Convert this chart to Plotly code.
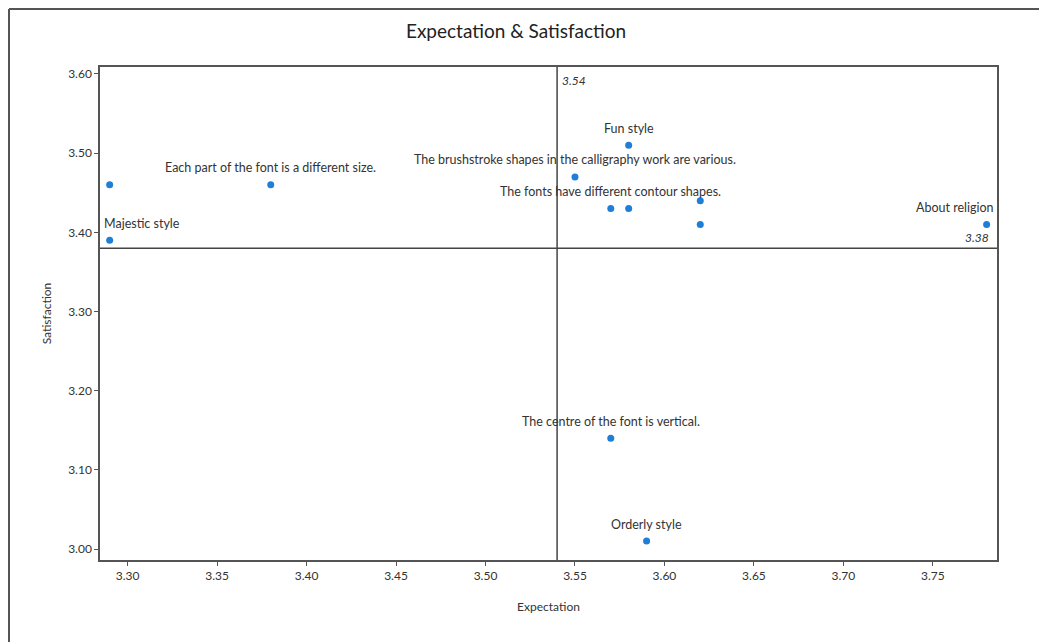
import plotly.graph_objects as go

# Data
labels = ["Majestic style", "", "Each part of the font is a different size.",
          "Fun style", "The brushstroke shapes in the calligraphy work are various.",
          "The fonts have different contour shapes.", "", "", "",
          "About religion", "The centre of the font is vertical.", "Orderly style"]
expectation = [3.29, 3.29, 3.38, 3.58, 3.55, 3.57, 3.58, 3.62, 3.62, 3.78, 3.57, 3.59]
satisfaction = [3.39, 3.46, 3.46, 3.51, 3.47, 3.43, 3.43, 3.44, 3.41, 3.41, 3.14, 3.01]
mean_expectation = 3.54
mean_satisfaction = 3.38
x_ticks = [3.30, 3.35, 3.40, 3.45, 3.50, 3.55, 3.60, 3.65, 3.70, 3.75]
y_ticks = [3.00, 3.10, 3.20, 3.30, 3.40, 3.50, 3.60]

FONT = "Lato"
TXT = "#333333"

fig = go.Figure()
fig.add_trace(go.Scatter(
    x=expectation, y=satisfaction, mode="markers",
    marker=dict(color="#1f7fd6", size=7),
    hoverinfo="x+y", showlegend=False,
))

# point labels
for lab, xv, yv in zip(labels, expectation, satisfaction):
    if not lab:
        continue
    anchor, shift = "center", 0
    if lab == "Majestic style":
        anchor, shift = "left", -8
    elif lab == "About religion":
        anchor, shift = "right", 9
    fig.add_annotation(x=xv, y=yv, text=lab, showarrow=False,
                       xanchor=anchor, xshift=shift, yanchor="middle", yshift=17,
                       font=dict(family=FONT, size=12.5, color=TXT))

# reference lines
fig.add_shape(type="line", xref="x", yref="paper", x0=mean_expectation, x1=mean_expectation,
              y0=0, y1=1, line=dict(color="#444444", width=1.5))
fig.add_shape(type="line", xref="paper", yref="y", x0=0, x1=1,
              y0=mean_satisfaction, y1=mean_satisfaction, line=dict(color="#444444", width=1.5))
fig.add_annotation(x=mean_expectation, y=1, xref="x", yref="paper", text="<i>%.2f</i>" % mean_expectation,
                   showarrow=False, xanchor="left", yanchor="top", xshift=3, yshift=-4,
                   font=dict(family=FONT, size=12, color=TXT))
fig.add_annotation(x=1, y=mean_satisfaction, xref="paper", yref="y", text="<i>%.2f</i>" % mean_satisfaction,
                   showarrow=False, xanchor="right", yanchor="bottom", xshift=-6, yshift=1,
                   font=dict(family=FONT, size=12, color=TXT))

# page has an 8px body margin; figure sized to fit the window
W, H = 1039, 634
ml, mt = 92, 59
pw, ph = 897, 493
mr, mb = W - ml - pw, H - mt - ph
fx0 = (1 - ml) / pw
fx1 = (W - ml) / pw
fy_top = (H - mb - 1) / ph
fy_bot = -mb / ph
fig.add_shape(type="line", xref="paper", yref="paper", x0=fx0, x1=fx1, y0=fy_top, y1=fy_top,
              line=dict(color="#555555", width=2))
fig.add_shape(type="line", xref="paper", yref="paper", x0=fx0, x1=fx0, y0=fy_top, y1=fy_bot,
              line=dict(color="#555555", width=2))

fig.update_layout(
    width=W, height=H,
    margin=dict(l=ml, r=mr, t=mt, b=mb),
    paper_bgcolor="white", plot_bgcolor="white",
    title=dict(text="Expectation & Satisfaction", x=0.489, xanchor="center", y=1 - 23 / H, yanchor="middle",
               font=dict(family=FONT, size=19, color="#222222")),
    font=dict(family=FONT, color=TXT),
    xaxis=dict(range=[3.2846, 3.7858], tickvals=x_ticks, tickformat=".2f",
               showgrid=False, zeroline=False, showline=True, linecolor="#555555", linewidth=1.5,
               mirror=True, ticks="outside", ticklen=4, tickcolor="#555555",
               tickfont=dict(family=FONT, size=12, color=TXT),
               title=dict(text="Expectation", font=dict(family=FONT, size=12, color=TXT), standoff=20)),
    yaxis=dict(range=[2.9861, 3.6088], tickvals=y_ticks, tickformat=".2f",
               showgrid=False, zeroline=False, showline=True, linecolor="#555555", linewidth=1.5,
               mirror=True, ticks="outside", ticklen=4, tickcolor="#555555",
               tickfont=dict(family=FONT, size=12, color=TXT),
               title=dict(text="Satisfaction", font=dict(family=FONT, size=12, color=TXT), standoff=14)),
)

fig.write_html("out.html")
